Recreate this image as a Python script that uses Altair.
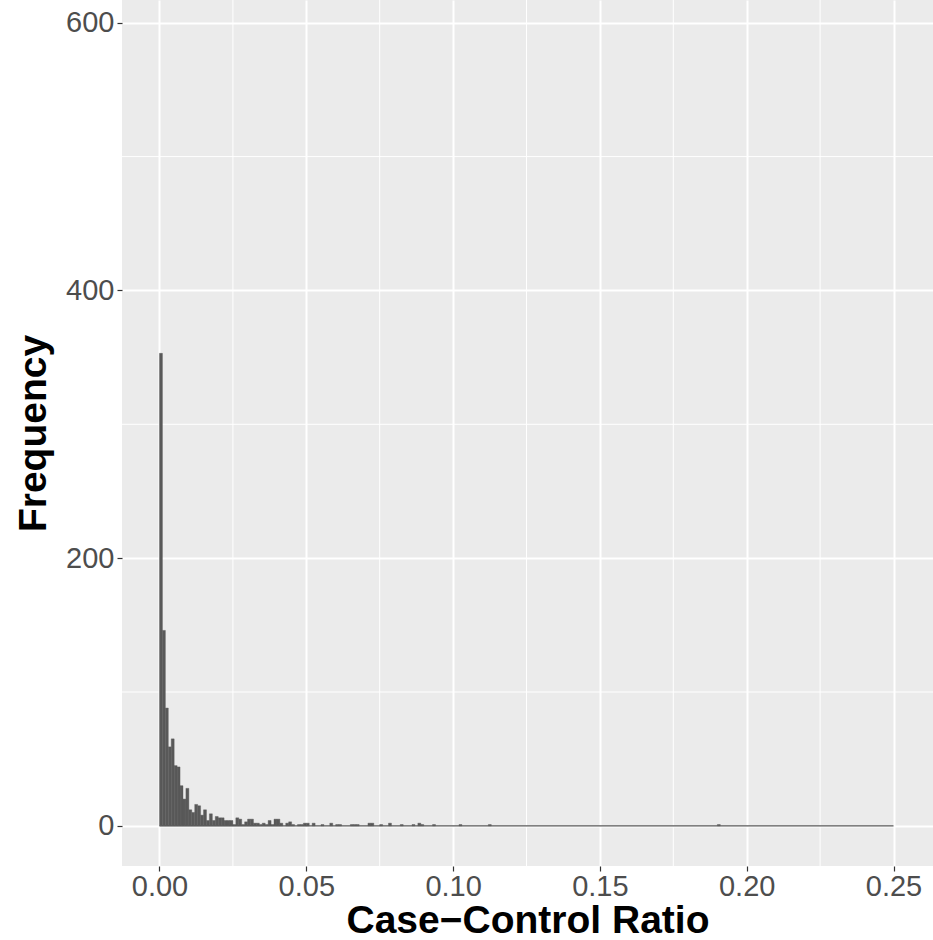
import altair as alt
import pandas as pd

# Histogram of case-control ratios, bin width 0.001 over [0, 0.25]
BIN_WIDTH = 0.001
ratio_bin_start = [
    0.000, 0.001, 0.002, 0.003, 0.004, 0.005, 0.006, 0.007, 0.008, 0.009,
    0.010, 0.011, 0.012, 0.013, 0.014, 0.015, 0.016, 0.017, 0.018, 0.019,
    0.020, 0.021, 0.022, 0.023, 0.024, 0.025, 0.026, 0.027, 0.028, 0.029,
    0.030, 0.031, 0.032, 0.033, 0.034, 0.035, 0.036, 0.037, 0.038, 0.039,
    0.040, 0.041, 0.043, 0.044, 0.045, 0.047, 0.048, 0.049, 0.050, 0.052,
    0.055, 0.058, 0.060, 0.061, 0.065, 0.066, 0.067, 0.071, 0.072, 0.075,
    0.078, 0.082, 0.086, 0.088, 0.089, 0.093, 0.102, 0.112, 0.190,
]
frequency = [
    353, 146, 88, 59, 65, 45, 44, 30, 20, 28,
    12, 10, 16, 15, 8, 12, 4, 9, 4, 7,
    6, 6, 4, 4, 4, 1, 6, 5, 1, 3,
    5, 5, 2, 2, 1, 2, 1, 4, 1, 5,
    5, 2, 2, 3, 1, 1, 1, 2, 2, 2,
    1, 2, 1, 1, 1, 1, 1, 2, 2, 1,
    2, 1, 1, 2, 1, 1, 1, 1, 1,
]
range_start, range_end = 0.0, 0.25

x_ticks = [0.0, 0.05, 0.10, 0.15, 0.20, 0.25]
x_minor = [0.025, 0.075, 0.125, 0.175, 0.225]
y_ticks = [0, 200, 400, 600]
y_minor = [100, 300, 500]

bars = pd.DataFrame({
    "start": ratio_bin_start,
    "end": [s + BIN_WIDTH for s in ratio_bin_start],
    "count": frequency,
})

BAR = "#595959"
FONT = "Liberation Sans"
TITLE_SIZE = 39

x_scale = alt.Scale(domain=[-0.01277, 0.26345], nice=False, zero=False)
y_scale = alt.Scale(domain=[-30, 617], nice=False, zero=False)

x_axis = alt.Axis(
    values=x_ticks, format=".2f", title="Case\u2212Control Ratio",
    grid=True, gridColor="white", gridWidth=2,
    domain=False, ticks=True, tickColor="#333333", tickSize=5, tickWidth=1.2,
    labelColor="#4D4D4D", labelFontSize=29, labelFont=FONT, labelPadding=1,
    titleFont=FONT, titleFontSize=TITLE_SIZE, titleFontWeight="bold", titleColor="black",
    titleBaseline="alphabetic", titleY=66,
)
y_axis = alt.Axis(
    values=y_ticks, format="d", title="Frequency",
    grid=True, gridColor="white", gridWidth=2,
    domain=False, ticks=True, tickColor="#333333", tickSize=5, tickWidth=1.2,
    labelColor="#4D4D4D", labelFontSize=29, labelFont=FONT, labelPadding=3,
    titleFont=FONT, titleFontSize=TITLE_SIZE, titleFontWeight="bold", titleColor="black",
    titlePadding=12,
)

minor_v = alt.Chart(pd.DataFrame({"x": x_minor})).mark_rule(
    color="white", strokeWidth=1
).encode(x=alt.X("x:Q", scale=x_scale, axis=x_axis))

minor_h = alt.Chart(pd.DataFrame({"y": y_minor})).mark_rule(
    color="white", strokeWidth=1
).encode(y=alt.Y("y:Q", scale=y_scale, axis=y_axis))

baseline = alt.Chart(pd.DataFrame({"a": [range_start], "b": [range_end], "y": [0]})).mark_rule(
    color=BAR, strokeWidth=1.2
).encode(x="a:Q", x2="b:Q", y="y:Q")

hist = alt.Chart(bars).mark_rect(color=BAR, stroke=BAR, strokeWidth=0.4).encode(
    x=alt.X("start:Q", scale=x_scale, axis=x_axis),
    x2="end:Q",
    y=alt.Y("count:Q", scale=y_scale, axis=y_axis),
    y2=alt.datum(0),
)

chart = alt.layer(minor_v, minor_h, baseline, hist).properties(
    width=811, height=866,
    background="white",
    autosize=alt.AutoSizeParams(type="none"),
    padding={"left": 122, "top": 0, "right": 0, "bottom": 74},
).configure_view(
    fill="#EBEBEB", stroke=None
)

chart.save("out.html", embed_options={"renderer": "svg", "actions": False})
